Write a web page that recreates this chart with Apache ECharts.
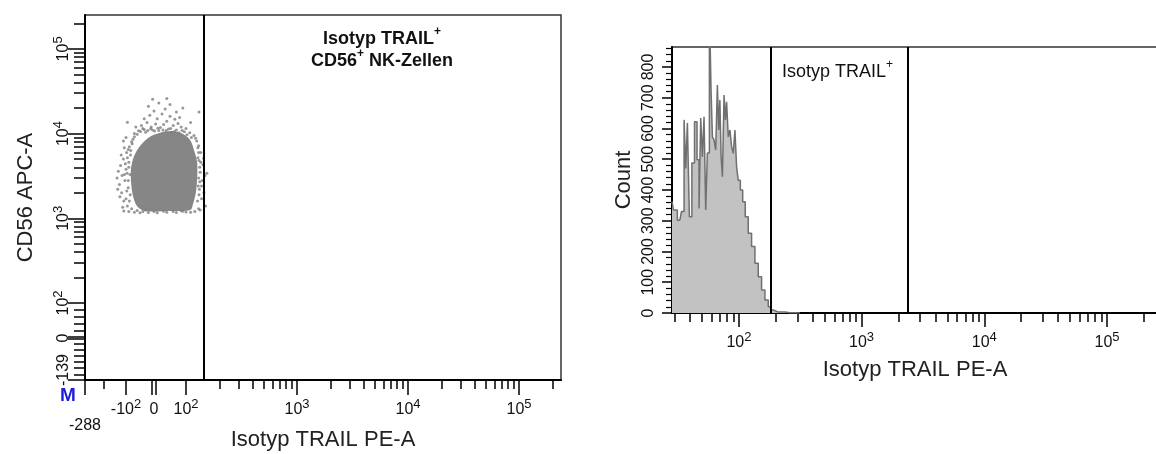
<!DOCTYPE html>
<html>
<head>
<meta charset="utf-8">
<style>
  html, body { margin: 0; padding: 0; background: #fff; }
  #chart { width: 1156px; height: 454px; }
</style>
<script src="https://cdn.jsdelivr.net/npm/echarts@6/dist/echarts.min.js"></script>
</head>
<body>
<div id="chart"></div>
<script>
// ---- dot plot (CD56 APC-A vs Isotyp TRAIL PE-A) ----
// outline of the dense core of the population
const coreX = [19, 56, 91, 109, 118, 126, 126, 123, 116, 109, 50, -32, -61, -75, -82, -82, -71, -50, -21];
const coreY = [10200, 10700, 9900, 8400, 6400, 4600, 3000, 2050, 1500, 1250, 1220, 1220, 1400, 1830, 2700, 3900, 5450, 7150, 8900];
// single events around the core
const dotX = [-40, -10, 20, 45, 70, 95, -55, 5, 30, 60, 85, -25, 40, 10, 65, -45, 100, -15, 25, 50,
  80, -35, 0, 35, 70, -20, 15, 50, 90, -5, 40, 110, 131, -70, -65, -30, 55, 15, -5, 75,
  -141, -135, -130, -125, -120, -118, -112, -110, -105, -100, -98, -95, -92, -90, -88, -85, -86, -84, -80, -128,
  -115, -138, -108, -100, -122, -95, -112,
  130, 132, 134, 128, 138, 140, 142, 136, 145, 148, 150, 154, 130, 125, 118, 134, 144,
  -90, -70, -50, -20, 10, 40, 70, 100, 120, -30, 85, -110,
  -60, -48, -35, -22, -12, 2, 12, 28, 38, 52, 64, 78, 88, 102, 108, 112, -75, -78, -92, -95,
  -90, -96, -92, -97, -88, -100, -103, -107, 128, 130, 131, 133, 130, 133, 129, 131, 127, 136, 138, 122,
  -80, -60, -40, 0, 30, 60, 90, 110, -70, -83];
const dotY = [11500, 12000, 11800, 11300, 11000, 10500, 10800, 13000, 12800, 12500, 12000, 13500, 14000, 15000, 14800, 12500, 11500, 16500, 17000, 16000,
  15500, 15000, 18500, 19500, 18000, 21000, 23000, 22000, 20000, 25500, 26000, 13500, 18000, 10000, 12000, 10400, 10300, 10900, 11000, 13200,
  3000, 3600, 2500, 4200, 2000, 3200, 5000, 1600, 2800, 3800, 6000, 1400, 2300, 4600, 7000, 1900, 3300, 5600, 8000, 1800,
  1350, 2200, 6800, 9000, 5600, 13600, 8200,
  1300, 2200, 3500, 5200, 1700, 2800, 4300, 6000, 2000, 3200, 1400, 3400, 7200, 8200, 9500, 1250, 5100,
  1200, 1180, 1160, 1170, 1160, 1180, 1170, 1190, 1200, 1250, 1230, 1220,
  9800, 10600, 11200, 10900, 11400, 10700, 11600, 11000, 10900, 11500, 10600, 10200, 10900, 9700, 10200, 9000, 8600, 7600, 6500, 5200,
  4000, 3400, 2800, 2100, 1600, 1700, 4400, 3300, 6800, 6000, 4800, 4000, 3000, 2700, 2400, 1900, 1600, 4600, 2400, 8800,
  1300, 1240, 1200, 1200, 1210, 1200, 1210, 1180, 9200, 6300];
const dotGate = 145;
const dotXTicks = [-288, -100, 0, 100, 1000, 10000, 100000];
const dotXLabels = ['-288', '-10^2', '0', '10^2', '10^3', '10^4', '10^5'];
const dotYTicks = [-139, 0, 100, 1000, 10000, 100000];
const dotYLabels = ['-139', '0', '10^2', '10^3', '10^4', '10^5'];

// ---- histogram (Count vs Isotyp TRAIL PE-A) ----
const histX = [28.5, 30.1, 33.0, 35.2, 36.3, 37.5, 38.6, 40.4, 42.4, 44.6, 46.6, 48.1, 49.6, 51.2, 52.8, 54.5, 56.2, 58.8, 59.9, 61.8,
  63.7, 65.8, 67.8, 69.1, 70.9, 72.3, 74.5, 76.9, 78.4, 80.4, 83.4, 85.6, 88.9, 91.1, 94.6, 96.9, 100.5, 105.1, 109.8, 115.5,
  123.0, 130.9, 139.4, 148.4, 157.9, 168.2, 179.0, 184.7, 196.5, 215.8, 260.6, 314.4];
const histY = [362, 335, 302, 330, 628, 470, 618, 313, 488, 622, 498, 340, 634, 507, 638, 335, 520, 1000, 720, 573,
  563, 530, 741, 595, 693, 508, 443, 709, 628, 687, 573, 595, 541, 519, 595, 476, 432, 400, 362, 313,
  259, 216, 162, 118, 75, 42, 20, 10, 4, 3, 1, 0];
const histGates = [182, 2380];
const histXTicks = [100, 1000, 10000, 100000];
const histXLabels = ['10^2', '10^3', '10^4', '10^5'];
const histYTicks = [0, 100, 200, 300, 400, 500, 600, 700, 800];

const FONT = 'Liberation Sans, Arial, sans-serif';

// biexponential display scales of the dot plot
function tx(v) {
  if (v >= 100) return 101 + 111 * (Math.log10(v) - 2);
  if (v >= 0) return 69 + 0.32 * v;
  if (v >= -100) return 69 + 0.28 * v;
  return 41 + (v + 100) * 41 / 188;
}
function ty(v) {
  if (v >= 100) return 77 + 84.7 * (Math.log10(v) - 2);
  if (v >= 0) return 42 + 0.35 * v;
  return 42 + v * 42 / 139;
}
const hx = Math.log10;

function logMinor(from, to, f) {
  const out = [];
  for (let d = from; d <= to; d++) {
    for (let k = 2; k <= 9; k++) out.push(f(k * Math.pow(10, d)));
  }
  return out;
}

function supText(s) {
  const p = s.split('^');
  return p.length > 1 ? '{b|' + p[0] + '}{s|' + p[1] + '}' : '{b|' + s + '}';
}
function labelFmt(ticks, labels, f, special) {
  return function (val) {
    for (let i = 0; i < ticks.length; i++) {
      if (Math.abs(f(ticks[i]) - val) < 0.01) {
        if (i === 0 && special) return '{' + special + '|' + labels[i] + '}';
        return supText(labels[i]);
      }
    }
    return '';
  };
}
const rich = {
  b: { fontSize: 16, fontFamily: FONT, color: '#111', verticalAlign: 'bottom', lineHeight: 20 },
  s: { fontSize: 13, fontFamily: FONT, color: '#111', verticalAlign: 'top', lineHeight: 20 },
  low: { fontSize: 16, fontFamily: FONT, color: '#111', padding: [20, 0, 0, 0] },
  lowy: { fontSize: 16, fontFamily: FONT, color: '#111', padding: [0, 0, 0, 20] }
};
const nameStyle = { fontSize: 22, color: '#222', fontFamily: FONT };
const lineBlack = { color: '#000', width: 2 };

const dotXMajor = [0, tx(-100), tx(-7), tx(7), tx(100), tx(1000), tx(10000), tx(100000)];
const dotXMinor = [tx(-200)].concat(logMinor(2, 4, tx), [tx(200000)]);
const dotYMajor = [0, ty(-4), ty(4), ty(100), ty(1000), ty(10000), ty(100000)];
const dotYMinor = [-120, -100, -80, -60, -40, -20, 20, 40, 60, 80].map(ty)
  .concat(logMinor(2, 4, ty), [ty(200000)]);

const hxMin = hx(28.5), hxMax = hx(28.5) + 486 / 122.7;
const histXMinor = logMinor(1, 5, hx).filter(v => v > hxMin && v < hxMax);
const histYMinor = [];
for (let c = 20; c <= 860; c += 20) if (c % 100) histYMinor.push(c);

function baseAxis(extra) {
  return Object.assign({
    type: 'value',
    splitLine: { show: false },
    axisLine: { show: true, onZero: false, lineStyle: lineBlack },
    nameMoveOverlap: false
  }, extra);
}

const chart = echarts.init(document.getElementById('chart'));
chart.setOption({
  animation: false,
  backgroundColor: '#fff',
  grid: [
    { left: 85, top: 15, width: 476, height: 365, show: true, borderColor: '#333', borderWidth: 1.5, outerBoundsMode: 'none' },
    { left: 672, top: 47, width: 486, height: 266, show: true, borderColor: '#333', borderWidth: 1.5, outerBoundsMode: 'none' }
  ],
  xAxis: [
    baseAxis({
      gridIndex: 0, position: 'bottom', min: 0, max: 476,
      axisTick: { length: 15, customValues: dotXMajor, lineStyle: { color: '#000', width: 1.5 } },
      axisLabel: { customValues: dotXTicks.map(tx), margin: 18, formatter: labelFmt(dotXTicks, dotXLabels, tx, 'low'), rich: rich },
      name: 'Isotyp TRAIL PE-A', nameLocation: 'middle', nameGap: 49, nameTextStyle: nameStyle
    }),
    baseAxis({
      gridIndex: 0, position: 'bottom', min: 0, max: 476,
      axisLine: { show: false, onZero: false },
      axisTick: { length: 9, customValues: dotXMinor, lineStyle: { color: '#000', width: 1.5 } },
      axisLabel: { show: false }
    }),
    baseAxis({
      gridIndex: 1, position: 'bottom', min: hxMin, max: hxMax,
      axisTick: { length: 14, customValues: histXTicks.map(hx), lineStyle: { color: '#000', width: 1.5 } },
      axisLabel: { customValues: histXTicks.map(hx), margin: 18, formatter: labelFmt(histXTicks, histXLabels, hx), rich: rich },
      name: 'Isotyp TRAIL PE-A', nameLocation: 'middle', nameGap: 46, nameTextStyle: nameStyle
    }),
    baseAxis({
      gridIndex: 1, position: 'bottom', min: hxMin, max: hxMax,
      axisLine: { show: false, onZero: false },
      axisTick: { length: 9, customValues: histXMinor, lineStyle: { color: '#000', width: 1.5 } },
      axisLabel: { show: false }
    })
  ],
  yAxis: [
    baseAxis({
      gridIndex: 0, position: 'left', min: 0, max: 365,
      axisTick: { length: 17, customValues: dotYMajor, lineStyle: { color: '#000', width: 1.5 } },
      axisLabel: { customValues: dotYTicks.map(ty), rotate: 90, margin: 13, formatter: labelFmt(dotYTicks, dotYLabels, ty, 'lowy'), rich: rich },
      name: 'CD56 APC-A', nameLocation: 'middle', nameGap: 48, nameTextStyle: nameStyle
    }),
    baseAxis({
      gridIndex: 0, position: 'left', min: 0, max: 365,
      axisLine: { show: false, onZero: false },
      axisTick: { length: 11, customValues: dotYMinor, lineStyle: { color: '#000', width: 1.5 } },
      axisLabel: { show: false }
    }),
    baseAxis({
      gridIndex: 1, position: 'left', min: 0, max: 865,
      axisTick: { length: 10, customValues: histYTicks, lineStyle: { color: '#000', width: 1.5 } },
      axisLabel: { customValues: histYTicks, rotate: 90, margin: 15, fontSize: 16, fontFamily: FONT, color: '#111' },
      name: 'Count', nameLocation: 'middle', nameGap: 37, nameTextStyle: nameStyle
    }),
    baseAxis({
      gridIndex: 1, position: 'left', min: 0, max: 865,
      axisLine: { show: false, onZero: false },
      axisTick: { length: 6, customValues: histYMinor, lineStyle: { color: '#000', width: 1.2 } },
      axisLabel: { show: false }
    })
  ],
  series: [
    {
      type: 'custom', xAxisIndex: 0, yAxisIndex: 0, silent: true,
      data: coreX.map((x, i) => [tx(x), ty(coreY[i])]),
      renderItem: function (params, api) {
        if (params.dataIndex !== 0) return null;
        const pts = coreX.map((x, i) => api.coord([tx(x), ty(coreY[i])]));
        return { type: 'polygon', shape: { points: pts, smooth: 0.3 }, style: { fill: '#868686' } };
      }
    },
    {
      type: 'scatter', xAxisIndex: 0, yAxisIndex: 0, silent: true,
      symbolSize: 3,
      itemStyle: { color: '#7e7e7e' },
      data: dotX.map((x, i) => [tx(x), ty(dotY[i])]),
      markLine: {
        silent: true, symbol: ['none', 'none'], label: { show: false },
        lineStyle: { color: '#000', width: 2, type: 'solid' },
        data: [{ xAxis: tx(dotGate) }]
      }
    },
    {
      type: 'line', xAxisIndex: 2, yAxisIndex: 2, silent: true,
      step: 'middle', symbol: 'none',
      lineStyle: { color: '#707070', width: 1.5 },
      areaStyle: { color: '#c2c2c2', opacity: 1 },
      data: histX.map((x, i) => [hx(x), histY[i]]),
      markLine: {
        silent: true, symbol: ['none', 'none'], label: { show: false },
        lineStyle: { color: '#000', width: 2, type: 'solid' },
        data: histGates.map(g => ({ xAxis: hx(g) }))
      }
    }
  ],
  graphic: [
    {
      type: 'text', x: 382, y: 26,
      style: {
        text: '{t|Isotyp TRAIL}{p|+}\n{t|CD56}{p|+}{t| NK-Zellen}',
        align: 'center', verticalAlign: 'top',
        rich: {
          t: { fontSize: 18, fontWeight: 'bold', fontFamily: FONT, fill: '#111', lineHeight: 22, verticalAlign: 'bottom' },
          p: { fontSize: 12, fontWeight: 'bold', fontFamily: FONT, fill: '#111', lineHeight: 20, verticalAlign: 'top' }
        }
      }
    },
    {
      type: 'text', x: 782, y: 59,
      style: {
        text: '{t|Isotyp TRAIL}{p|+}',
        rich: {
          t: { fontSize: 18, fontFamily: FONT, fill: '#111', lineHeight: 22, verticalAlign: 'bottom' },
          p: { fontSize: 12, fontFamily: FONT, fill: '#111', lineHeight: 20, verticalAlign: 'top' }
        }
      }
    },
    {
      type: 'text', x: 60, y: 386,
      style: { text: 'M', fontSize: 19, fontWeight: 'bold', fontFamily: FONT, fill: '#1c1cdc' }
    }
  ]
});
</script>
</body>
</html>
